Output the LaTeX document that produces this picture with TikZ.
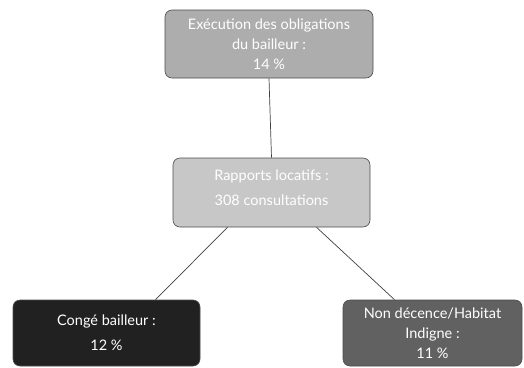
\documentclass[tikz,border=0pt]{standalone}
\usepackage{fontspec}
\setmainfont{Lato}
\begin{document}
\begin{tikzpicture}[x=1pt,y=-1pt,
  box/.style={draw=black!70, line width=0.6pt, rounded corners=7pt, text=white, align=center, inner sep=0pt, font=\fontsize{14.5}{20}\selectfont},
  link/.style={draw=black!75, line width=0.7pt}]
\useasboundingbox (0,0) rectangle (524,367);
\node[box, fill=black!32, minimum width=208pt, minimum height=68pt] (top) at (269,44) {Exécution des obligations\\du bailleur :\\14 \%};
\node[box, fill=black!22, minimum width=197pt, minimum height=69pt, font=\fontsize{14.5}{25}\selectfont] (mid) at (271.5,192.5) {Rapports locatifs :\\308 consultations\\[-15pt]};
\node[box, fill=black!87, minimum width=187pt, minimum height=66pt, font=\fontsize{14.5}{25}\selectfont] (left) at (106.5,333) {Congé bailleur :\\12 \%};
\node[box, fill=black!62, minimum width=179pt, minimum height=66pt] (right) at (432.5,333) {Non décence/Habitat\\Indigne :\\11 \%};
\draw[link] (top.south) -- (mid.north);
\draw[link] ([xshift=-44pt]mid.south) -- ([xshift=49pt]left.north);
\draw[link] ([xshift=45pt]mid.south) -- ([xshift=-38pt]right.north);
\end{tikzpicture}
\end{document}
